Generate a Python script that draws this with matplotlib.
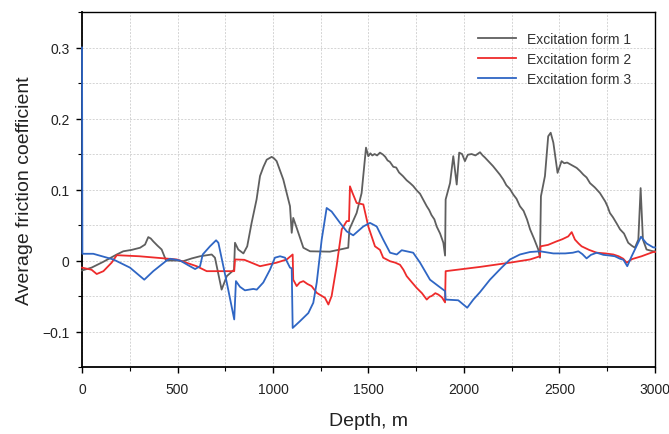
import matplotlib
matplotlib.use("Agg")
import matplotlib.pyplot as plt
from matplotlib.ticker import MultipleLocator, FuncFormatter

plt.rcParams['font.family'] = ['Liberation Sans', 'DejaVu Sans']

# Excitation form 1 (grey)
depth_1 = [0, 50, 110, 182, 216, 260, 304, 330, 347, 360, 373, 395, 417, 440, 496,
           529, 575, 618, 679, 696, 731, 758, 796, 801, 818, 845, 865, 888, 914,
           932, 950, 967, 980, 993, 1005, 1019, 1035, 1054, 1070, 1089, 1098, 1106,
           1124, 1159, 1194, 1298, 1394, 1400, 1438, 1464, 1487, 1499, 1510, 1520,
           1532, 1545, 1560, 1577, 1588, 1600, 1612, 1630, 1645, 1660, 1680, 1700,
           1718, 1734, 1752, 1770, 1788, 1805, 1818, 1830, 1845, 1857, 1875, 1892,
           1901, 1904, 1927, 1944, 1962, 1975, 1990, 2005, 2020, 2040, 2060, 2084,
           2098, 2110, 2124, 2136, 2152, 2170, 2188, 2206, 2222, 2240, 2258, 2275,
           2293, 2312, 2330, 2346, 2368, 2389, 2398, 2403, 2424, 2441, 2454, 2468,
           2490, 2511, 2525, 2540, 2560, 2590, 2608, 2625, 2642, 2660, 2685, 2712,
           2726, 2740, 2752, 2764, 2780, 2800, 2817, 2838, 2860, 2878, 2895, 2913,
           2925, 2937, 2956, 2991, 3000]
form_1 = [-0.014, -0.010, -0.002, 0.0085, 0.013, 0.015, 0.018, 0.0225, 0.033, 0.031,
          0.027, 0.021, 0.0155, 0.0, 0.0, -0.001, 0.003, 0.006, 0.0085, 0.004,
          -0.041, -0.022, -0.013, 0.025, 0.0155, 0.010, 0.020, 0.053, 0.086, 0.119,
          0.132, 0.142, 0.144, 0.146, 0.144, 0.140, 0.128, 0.114, 0.097, 0.0765,
          0.039, 0.060, 0.046, 0.018, 0.013, 0.0125, 0.018, 0.044, 0.067, 0.095,
          0.159, 0.147, 0.151, 0.148, 0.150, 0.148, 0.152, 0.149, 0.146, 0.141,
          0.139, 0.132, 0.131, 0.124, 0.119, 0.113, 0.109, 0.105, 0.099, 0.094,
          0.085, 0.0765, 0.071, 0.064, 0.058, 0.048, 0.038, 0.025, 0.007, 0.086,
          0.109, 0.147, 0.107, 0.152, 0.150, 0.140, 0.149, 0.150, 0.148, 0.1525,
          0.148, 0.145, 0.141, 0.1375, 0.133, 0.127, 0.121, 0.114, 0.106, 0.101,
          0.093, 0.087, 0.0765, 0.070, 0.058, 0.044, 0.030, 0.0155, 0.004, 0.0905,
          0.119, 0.175, 0.180, 0.166, 0.1235, 0.140, 0.137, 0.138, 0.135, 0.1305,
          0.126, 0.121, 0.117, 0.109, 0.103, 0.095, 0.089, 0.083, 0.076, 0.067,
          0.061, 0.052, 0.044, 0.038, 0.025, 0.021, 0.018, 0.0295, 0.102, 0.0295,
          0.0155, 0.013, 0.013]

# Excitation form 2 (red)
depth_2 = [0, 50, 77, 112, 155, 182, 300, 496, 600, 653, 792, 797, 801, 850, 932,
           1019, 1072, 1103, 1106, 1124, 1140, 1159, 1180, 1202, 1229, 1250, 1272,
           1290, 1307, 1333, 1360, 1386, 1398, 1403, 1415, 1438, 1473, 1499, 1534,
           1560, 1577, 1613, 1640, 1665, 1683, 1700, 1725, 1752, 1780, 1805, 1820,
           1831, 1850, 1866, 1885, 1901, 1904, 2084, 2241, 2346, 2398, 2401, 2440,
           2485, 2515, 2546, 2564, 2581, 2600, 2616, 2655, 2695, 2740, 2782, 2810,
           2834, 2852, 2880, 2905, 2930, 2960, 2991, 3000]
form_2 = [-0.010, -0.013, -0.019, -0.015, -0.003, 0.0075, 0.006, 0.0015, -0.008,
          -0.015, -0.015, -0.015, 0.0015, 0.001, -0.008, -0.003, 0.0015, 0.0085,
          -0.027, -0.036, -0.031, -0.029, -0.033, -0.036, -0.0455, -0.049,
          -0.0525, -0.062, -0.050, -0.008, 0.044, 0.0555, 0.0555, 0.1045, 0.096,
          0.081, 0.079, 0.048, 0.020, 0.015, 0.004, -0.001, -0.003, -0.006, -0.013,
          -0.022, -0.030, -0.0385, -0.046, -0.055, -0.051, -0.050, -0.046, -0.048,
          -0.052, -0.059, -0.015, -0.009, -0.003, 0.0015, 0.006, 0.020, 0.022,
          0.027, 0.030, 0.034, 0.040, 0.0295, 0.024, 0.020, 0.015, 0.011, 0.010,
          0.0085, 0.006, 0.0025, -0.003, 0.002, 0.004, 0.006, 0.009, 0.012, 0.012]

# Excitation form 3 (blue)
depth_3 = [0, 2, 59, 164, 251, 326, 373, 443, 461, 513, 565, 592, 618, 632, 670,
           702, 714, 758, 797, 806, 827, 853, 897, 915, 949, 984, 1010, 1037, 1063,
           1089, 1098, 1103, 1141, 1185, 1211, 1229, 1255, 1281, 1307, 1351, 1386,
           1420, 1473, 1508, 1543, 1577, 1613, 1648, 1674, 1734, 1770, 1822, 1866,
           1901, 1904, 1970, 2017, 2049, 2084, 2136, 2197, 2241, 2293, 2346, 2398,
           2468, 2530, 2570, 2599, 2620, 2642, 2665, 2695, 2730, 2764, 2790, 2817,
           2835, 2855, 2878, 2927, 2956, 2991, 3000]
form_3 = [0.300, 0.0095, 0.0095, 0.0015, -0.010, -0.027, -0.015, 0.0, 0.0025, 0.0,
          -0.008, -0.012, -0.008, 0.0085, 0.020, 0.0285, 0.025, -0.031, -0.083,
          -0.029, -0.037, -0.042, -0.040, -0.041, -0.031, -0.013, 0.004, 0.006,
          0.004, -0.010, -0.011, -0.095, -0.0855, -0.074, -0.0595, -0.031, 0.0295,
          0.074, 0.069, 0.053, 0.041, 0.0355, 0.048, 0.053, 0.048, 0.0295, 0.011,
          0.0085, 0.0145, 0.011, -0.003, -0.027, -0.036, -0.043, -0.055, -0.056,
          -0.0665, -0.055, -0.0445, -0.027, -0.010, 0.0015, 0.0085, 0.012, 0.013,
          0.010, 0.010, 0.011, 0.013, 0.009, 0.003, 0.008, 0.011, 0.008, 0.007,
          0.006, 0.0025, 0.001, -0.008, 0.006, 0.0335, 0.024, 0.0185, 0.0185]

series_labels = ["Excitation form 1", "Excitation form 2", "Excitation form 3"]
series_colors = ["#5f5f5f", "#ee2b2b", "#2f66c4"]

fig = plt.figure(figsize=(6.69, 4.35), dpi=100)
ax = fig.add_axes([0.1226, 0.154, 0.8564, 0.816])

for d, v, lab, col in zip([depth_1, depth_2, depth_3], [form_1, form_2, form_3],
                          series_labels, series_colors):
    ax.plot(d, v, color=col, lw=1.3, label=lab, zorder=3, clip_on=False)

ax.set_xlim(0, 3000)
ax.set_ylim(-0.15, 0.35)
ax.xaxis.set_major_locator(MultipleLocator(500))
ax.xaxis.set_minor_locator(MultipleLocator(250))
ax.yaxis.set_major_locator(MultipleLocator(0.1))
ax.yaxis.set_minor_locator(MultipleLocator(0.05))


def yfmt(v, pos):
    if abs(v) < 1e-9:
        return "0"
    return f"{v:.1f}".replace("-", "\u2212")


ax.yaxis.set_major_formatter(FuncFormatter(yfmt))
ax.grid(which="both", color="#d4d4d4", ls=(0, (2, 1.5)), lw=0.7, zorder=0)
ax.tick_params(which="major", direction="out", length=4, width=1, labelsize=10,
               colors="black", pad=5)
ax.tick_params(which="minor", direction="out", length=3, width=0.8)
ax.tick_params(axis="y", which="major", labelcolor="#222222")
ax.tick_params(axis="x", which="major", labelcolor="#222222", pad=7)

for side in ["left", "bottom"]:
    ax.spines[side].set_linewidth(1.3)
for side in ["top", "right"]:
    ax.spines[side].set_linewidth(1.0)

ax.set_xlabel("Depth, m", fontsize=14, labelpad=11, color="#222222")
ax.set_ylabel("Average friction coefficient", fontsize=14, labelpad=7, color="#222222")

leg = ax.legend(loc="upper right", frameon=False, fontsize=10, handlelength=2.7,
                labelspacing=0.45, bbox_to_anchor=(0.975, 0.972), borderaxespad=0.3)
for t in leg.get_texts():
    t.set_color("#333333")

fig.savefig("out.png", dpi=100)
